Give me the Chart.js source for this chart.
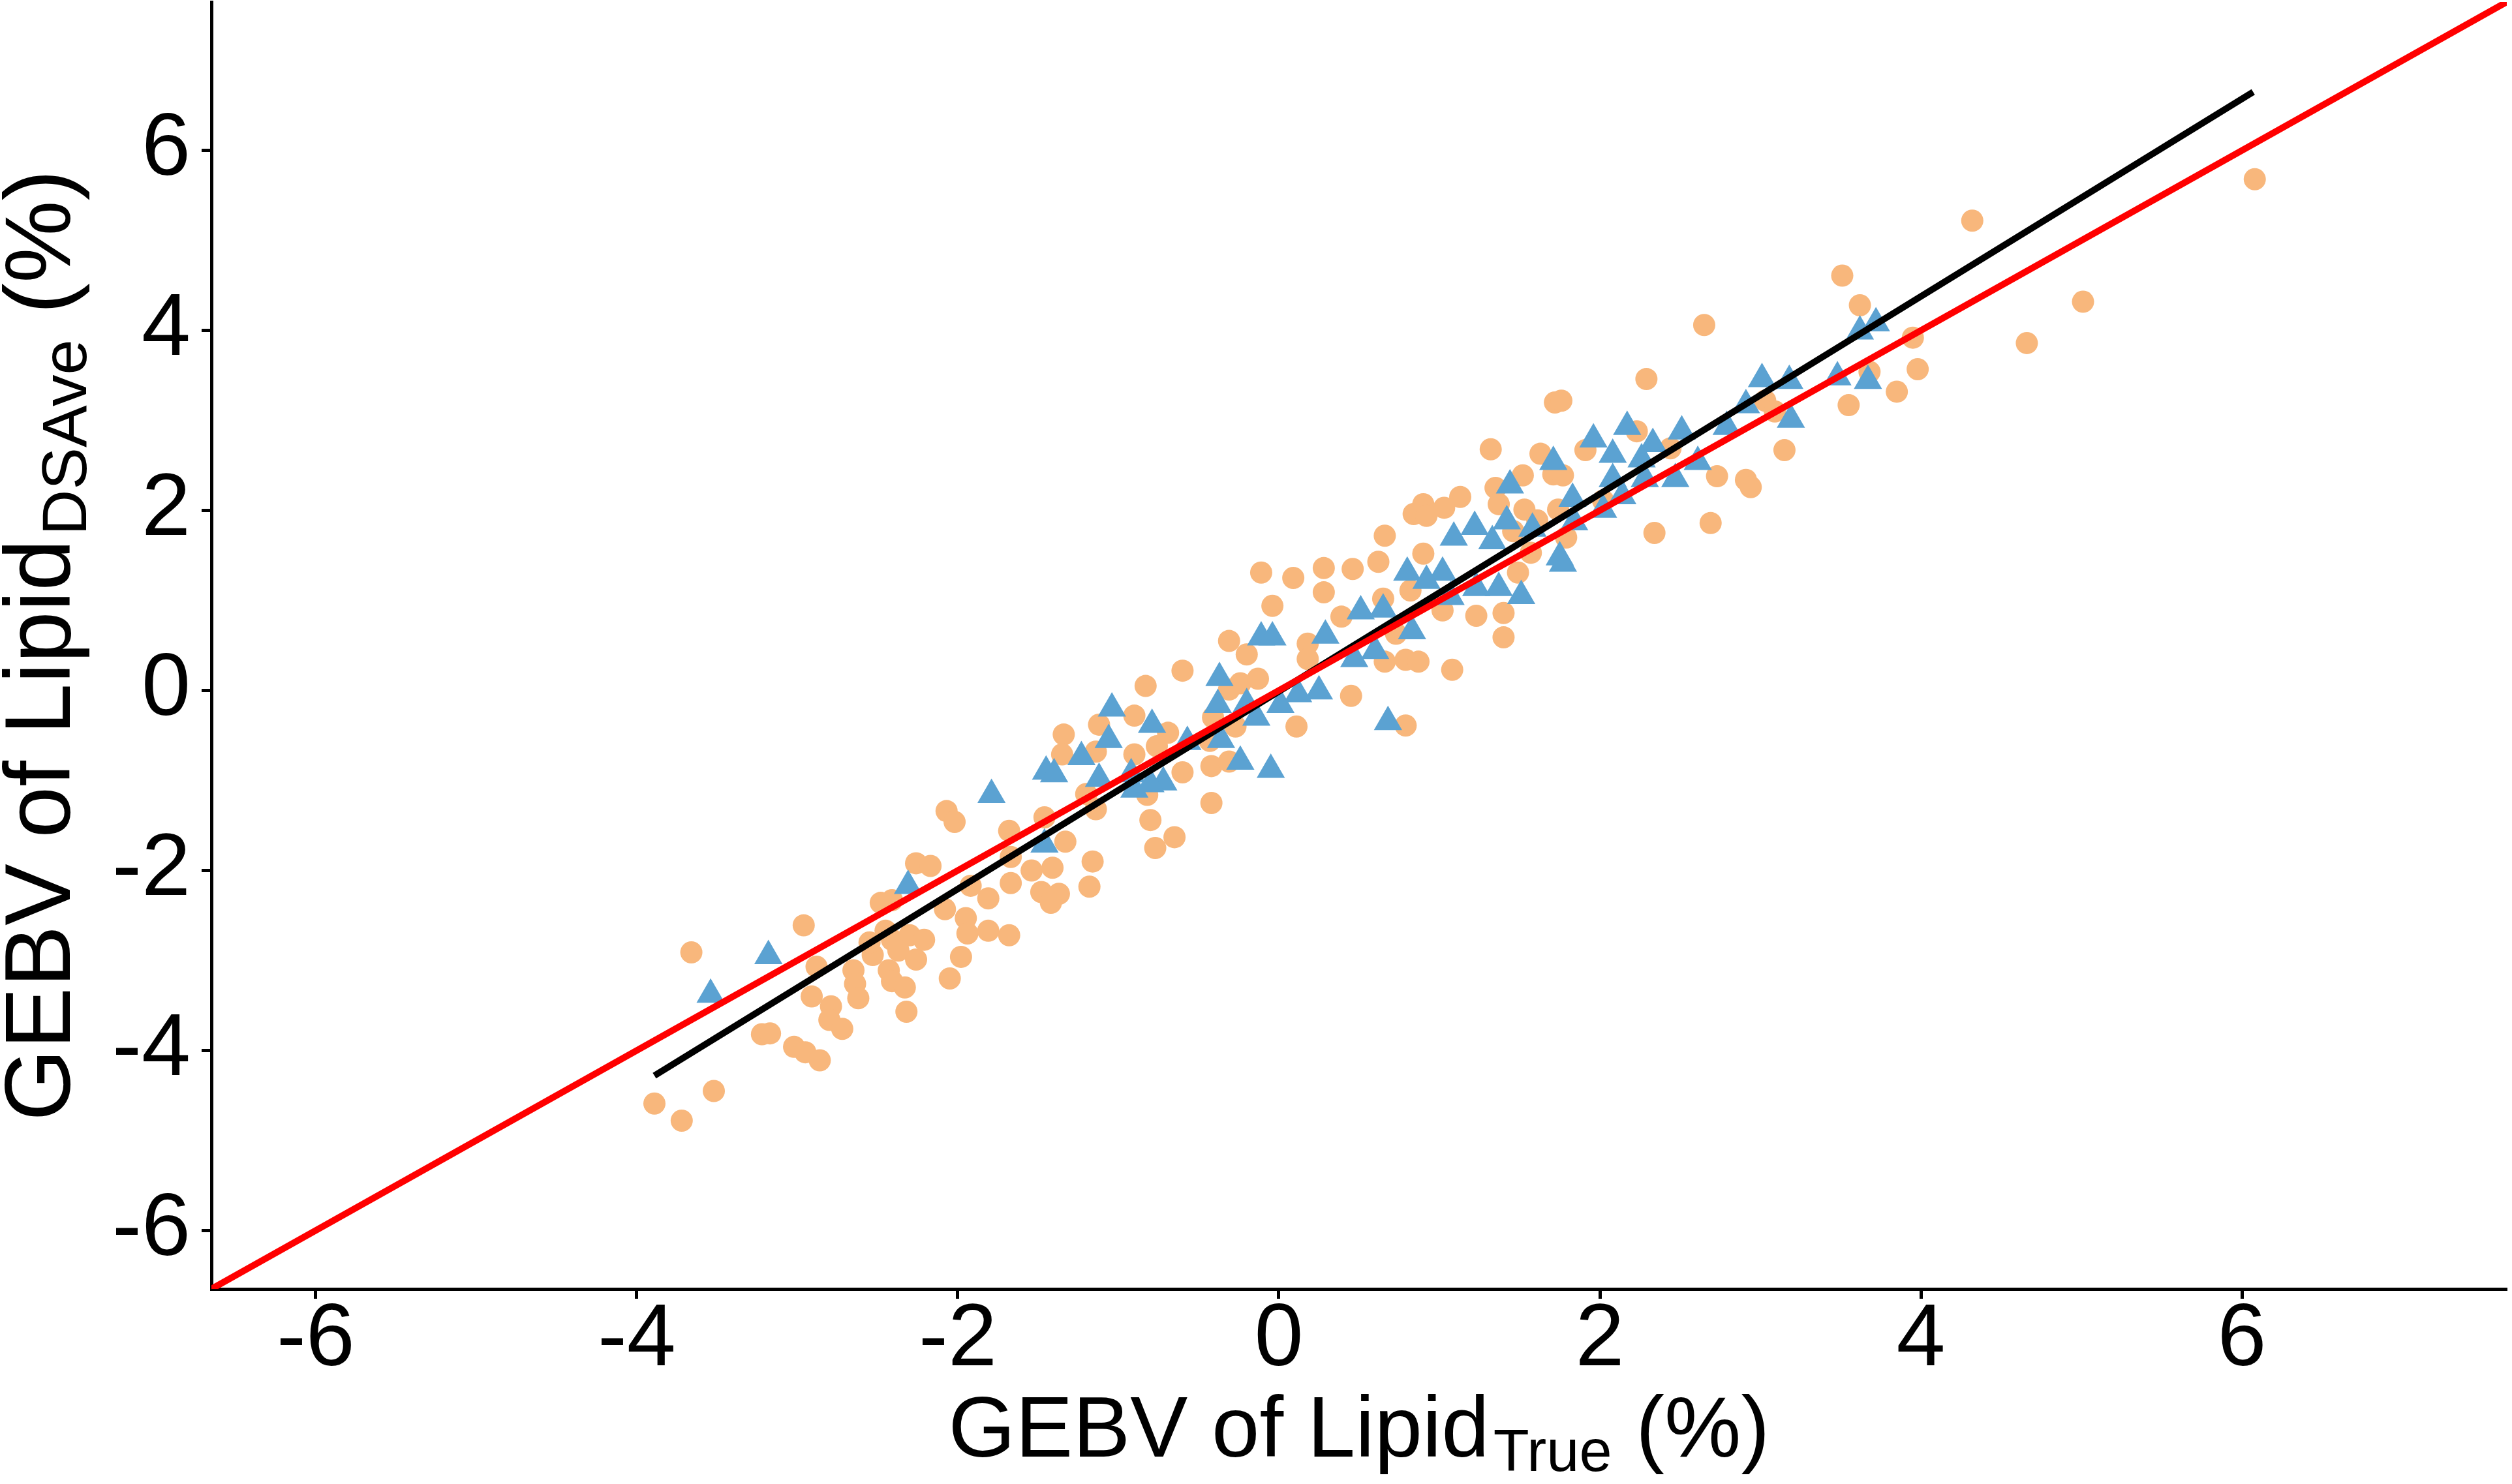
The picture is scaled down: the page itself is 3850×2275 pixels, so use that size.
<!DOCTYPE html>
<html>
<head>
<meta charset="utf-8">
<script src="https://cdn.jsdelivr.net/npm/chart.js@4.4.1/dist/chart.umd.min.js"></script>
<style>
  html, body { margin: 0; padding: 0; background: #ffffff; }
  #wrap { width: 3850px; height: 2275px; }
</style>
</head>
<body>
<div id="wrap"><canvas id="c" width="3850" height="2275"></canvas></div>
<script>
// ---- data (GEBV of Lipid: True vs DSAve, %) ----
const orangeTrue = [
  -3.66,-2.96,-3.89,-3.72,-3.52,-3.22,-3.17,-3.02,-2.95,-2.86,-2.88,-2.91,-2.79,-2.80,-2.72,-2.65,-2.64,-2.62,-2.32,-2.48,
  -2.41,-2.45,-2.53,-2.41,-2.30,-2.21,-2.37,-2.43,-2.41,-2.33,-2.26,-2.26,-2.17,-2.08,-1.98,-2.05,-1.95,-1.94,-1.92,-2.55,
  -0.60,-0.83,-0.90,-1.12,-1.34,-1.35,-1.14,-0.90,-0.69,-0.76,-0.60,-0.43,-0.42,-0.41,-0.31,-0.31,-0.27,-0.82,-0.80,-0.77,
  -0.65,-0.42,-1.20,-1.14,-2.07,-2.02,-1.68,-1.46,-1.33,-1.16,-1.18,-1.54,-1.41,-1.48,-1.37,-1.42,-1.67,-1.67,-1.81,-1.81,-1.68,
  0.66,0.90,0.62,0.46,0.28,0.09,-0.11,0.28,-0.04,0.65,0.82,0.39,-0.31,-0.20,0.18,0.18,0.73,0.66,0.79,0.87,
  1.08,1.02,1.23,1.40,1.40,1.49,1.46,1.57,-0.24,-0.13,0.45,0.11,0.79,
  1.32,1.35,1.37,1.13,1.03,0.90,0.84,0.92,
  2.29,1.72,1.76,1.63,1.91,2.23,1.52,1.71,1.77,1.53,1.61,1.74,1.79,2.44,2.73,2.91,2.94,3.15,3.03,3.09,2.34,2.69,2.02,
  2.65,4.32,3.51,3.62,3.95,3.98,3.85,3.68,3.55,4.66,5.01,6.08
];
const orangeDSAve = [
  -2.91,-2.61,-4.59,-4.78,-4.45,-3.82,-3.81,-3.96,-4.02,-4.11,-3.07,-3.40,-3.51,-3.66,-3.76,-3.11,-3.26,-3.42,-3.57,-2.36,
  -2.33,-2.67,-2.94,-2.77,-2.72,-2.77,-2.89,-3.11,-3.23,-3.30,-2.99,-1.92,-1.95,-2.43,-2.96,-3.20,-2.53,-2.70,-2.17,-2.80,
  0.22,0.05,-0.28,-0.38,-0.49,-0.71,-0.68,-0.71,-0.47,-0.62,-0.91,-0.56,-0.84,-0.30,0.01,-0.79,-0.40,-1.16,-1.44,-1.75,
  -1.63,-1.25,-1.15,-1.32,-1.34,-1.46,-1.56,-1.41,-1.68,-1.90,-2.18,-2.00,-1.97,-2.24,-2.26,-2.36,-2.14,-1.85,-2.31,-2.67,-2.72,
  1.72,1.52,1.43,1.35,1.36,1.25,1.31,1.09,0.94,1.02,1.11,0.82,0.55,0.40,0.52,0.35,0.63,0.32,0.34,0.32,
  0.23,0.89,0.83,0.86,0.59,1.31,1.77,1.53,0.08,0.13,-0.06,-0.40,-0.39,
  2.68,2.25,2.07,2.15,2.03,2.07,1.96,1.94,
  3.46,3.20,3.22,2.63,2.67,2.88,2.39,2.40,2.39,2.01,1.89,2.01,1.70,2.69,2.38,2.34,2.26,2.67,3.22,3.10,1.75,1.86,2.11,
  4.06,5.22,4.61,4.28,3.92,3.57,3.32,3.54,3.17,3.86,4.32,5.68
];
const blueTrue = [
  -3.54,-3.18,-2.31,
  -1.79,-1.45,-1.40,-1.23,-1.04,-1.06,-0.79,-0.57,-0.37,-0.38,-0.36,-1.12,-0.92,-0.90,-0.72,-0.80,-1.46,
  -0.11,-0.04,0.29,0.51,0.65,0.83,0.47,0.60,0.80,1.02,0.92,1.09,1.22,1.33,1.37,1.23,1.51,1.07,1.58,1.42,
  0.25,0.12,-0.20,-0.14,0.01,0.68,-0.24,-0.05,
  3.01,3.18,2.91,3.19,2.79,2.17,1.96,2.08,2.33,2.26,2.51,2.61,2.47,2.28,2.08,2.14,2.02,1.83,1.84,1.71,1.44,1.75,1.77,
  3.62,3.72,3.48,3.67
];
const blueDSAve = [
  -3.38,-2.95,-2.17,
  -1.16,-0.90,-0.93,-0.74,-0.20,-0.55,-0.38,-0.57,0.14,-0.16,-0.55,-0.98,-0.93,-1.10,-1.02,-1.04,-1.71,
  0.59,0.59,0.61,0.88,0.90,0.66,0.35,0.44,1.31,1.31,1.22,1.70,1.82,1.66,1.14,1.14,1.05,1.04,1.80,1.88,
  -0.01,-0.04,-0.15,-0.30,-0.16,-0.35,-0.79,-0.88,
  3.46,3.44,3.17,3.01,2.93,2.93,2.79,2.62,2.74,2.57,2.88,2.54,2.35,2.35,2.35,2.16,2.01,2.13,1.87,2.54,2.28,1.48,1.41,
  3.99,4.08,3.48,3.44
];
// fitted regression line (end points) and the 1:1 line
const fitTrue  = [-3.89, 6.07];
const fitDSAve = [-4.28, 6.65];
const axisMin = -6.65, axisMax = 7.65;
const oneToOne = [axisMin, axisMax];
const tickValues = [-6, -4, -2, 0, 2, 4, 6];
const tickLabels = ['-6', '-4', '-2', '0', '2', '4', '6'];

const toPts = (xs, ys) => xs.map((x, i) => ({ x: x, y: ys[i] }));

const FONT = '"Liberation Sans", Arial, Helvetica, sans-serif';

const titlePlugin = {
  id: 'axisTitles',
  afterDraw(chart) {
    const ctx = chart.ctx;
    const ca = chart.chartArea;
    const drawParts = (parts, cx, baseY) => {
      let total = 0;
      parts.forEach(p => { ctx.font = p.size + 'px ' + FONT; p.w = ctx.measureText(p.t).width; total += p.w + (p.gap || 0); });
      let x = cx - total / 2;
      parts.forEach(p => {
        x += (p.gap || 0);
        ctx.font = p.size + 'px ' + FONT;
        ctx.fillText(p.t, x, baseY + p.dy);
        x += p.w;
      });
    };
    ctx.save();
    ctx.fillStyle = '#000000';
    ctx.textBaseline = 'alphabetic';
    ctx.textAlign = 'left';
    drawParts([
      { t: 'GEBV of Lipid', size: 132, dy: 0 },
      { t: 'True', size: 90, dy: 22, gap: 6 },
      { t: ' (%)', size: 132, dy: 0 }
    ], (ca.left + ca.right) / 2, 2233);
    ctx.translate(107, (ca.top + ca.bottom) / 2);
    ctx.rotate(-Math.PI / 2);
    drawParts([
      { t: 'GEBV of Lipid', size: 142, dy: 0 },
      { t: 'DSAve', size: 97, dy: 25, gap: 6 },
      { t: ' (%)', size: 142, dy: 0 }
    ], 0, 0);
    ctx.restore();
  }
};

const axisCommon = (isX) => ({
  type: 'linear',
  min: axisMin,
  max: axisMax,
  afterBuildTicks: (s) => { s.ticks = tickValues.map(v => ({ value: v })); },
  afterFit: (s) => {
    if (isX) { s.height = 299; } else { s.width = 324; }
    s.paddingTop = 0; s.paddingBottom = 0; s.paddingLeft = 0; s.paddingRight = 0;
  },
  grid: { display: true, drawOnChartArea: false, drawTicks: true, tickLength: 15, tickWidth: 5, color: '#000000' },
  border: { display: true, color: '#000000', width: 5 },
  ticks: {
    color: '#000000',
    font: { family: FONT, size: 135, lineHeight: 0.9 },
    padding: isX ? 4 : 17,
    maxRotation: 0,
    autoSkip: false,
    callback: (v) => { const i = tickValues.indexOf(v); return i >= 0 ? tickLabels[i] : ''; }
  },
  title: { display: false }
});

new Chart(document.getElementById('c'), {
  type: 'scatter',
  data: {
    datasets: [
      { label: '1:1', data: toPts(oneToOne, oneToOne), showLine: true, borderColor: '#FF0000', borderWidth: 10,
        pointRadius: 0, order: 0 },
      { label: 'fit', data: toPts(fitTrue, fitDSAve), showLine: true, borderColor: '#000000', borderWidth: 10,
        pointRadius: 0, order: 1 },
      { label: 'blue', data: toPts(blueTrue, blueDSAve), pointStyle: 'triangle', pointRadius: 25,
        backgroundColor: '#5BA2D2', borderWidth: 0, order: 2 },
      { label: 'orange', data: toPts(orangeTrue, orangeDSAve), pointStyle: 'circle', pointRadius: 17,
        backgroundColor: '#F8B77C', borderWidth: 0, order: 3 }
    ]
  },
  options: {
    responsive: false,
    devicePixelRatio: 1,
    animation: false,
    layout: { autoPadding: false, padding: { top: 3, right: 8, bottom: 0, left: 0 } },
    plugins: { legend: { display: false }, tooltip: { enabled: false } },
    scales: { x: axisCommon(true), y: axisCommon(false) }
  },
  plugins: [titlePlugin]
});
</script>
</body>
</html>
